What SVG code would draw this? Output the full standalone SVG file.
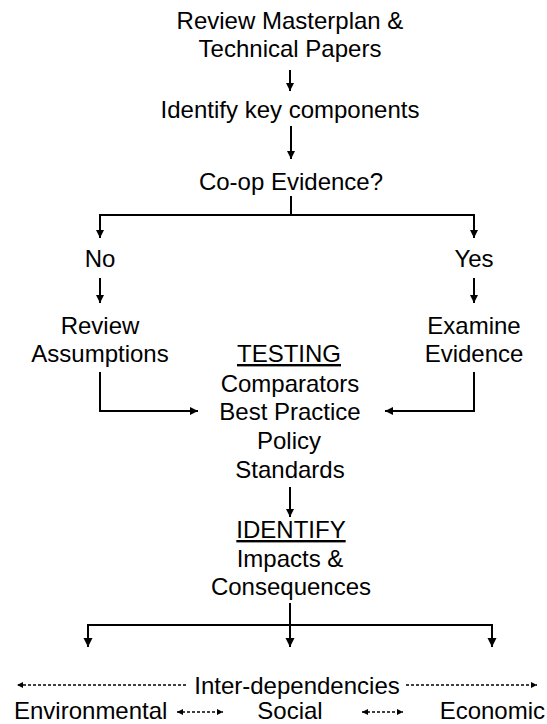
<svg xmlns="http://www.w3.org/2000/svg" width="547" height="724" viewBox="0 0 547 724">
<style>
  text { font-family: "Liberation Sans", Arial, sans-serif; font-size: 24px; fill: #000; text-anchor: middle; }
  .u { text-decoration: underline; }
  .st { text-anchor: start; }
  .en { text-anchor: end; }
  .c { fill: none; stroke: #000; stroke-width: 2; }
  .d { fill: none; stroke: #000; stroke-width: 1.5; stroke-dasharray: 3 2; }
</style>
<defs>
  <marker id="ah" markerUnits="userSpaceOnUse" viewBox="0 0 10 10" refX="10" refY="5" markerWidth="8" markerHeight="8" orient="auto">
    <path d="M0,0 L10,5 L0,10 z" fill="#000"/>
  </marker>
  <marker id="ahb" markerUnits="userSpaceOnUse" viewBox="0 0 10 10" refX="10" refY="5" markerWidth="9" markerHeight="10" orient="auto">
    <path d="M0,0 L10,5 L0,10 z" fill="#000"/>
  </marker>
  <marker id="ahs" markerUnits="userSpaceOnUse" viewBox="0 0 10 10" refX="10" refY="5" markerWidth="7" markerHeight="6" orient="auto-start-reverse">
    <path d="M0,0 L10,5 L0,10 z" fill="#000"/>
  </marker>
</defs>

<g id="connectors">
  <line class="c" x1="290" y1="70" x2="290" y2="91" marker-end="url(#ah)"/>
  <line class="c" x1="291" y1="126" x2="291" y2="159" marker-end="url(#ah)"/>
  <line class="c" x1="291" y1="196" x2="291" y2="215"/>
  <path class="c" d="M291,215 H100 V238" marker-end="url(#ah)"/>
  <path class="c" d="M291,215 H474 V238" marker-end="url(#ah)"/>
  <line class="c" x1="100" y1="278" x2="100" y2="303" marker-end="url(#ah)"/>
  <line class="c" x1="474" y1="278" x2="474" y2="303" marker-end="url(#ah)"/>
  <path class="c" d="M100,372 V411 H198" marker-end="url(#ah)"/>
  <path class="c" d="M474,372 V411 H385" marker-end="url(#ah)"/>
  <line class="c" x1="290" y1="487" x2="290" y2="517" marker-end="url(#ah)"/>
  <line class="c" x1="290" y1="603" x2="290" y2="647" marker-end="url(#ahb)"/>
  <path class="c" d="M290,625 H88 V647" marker-end="url(#ahb)"/>
  <path class="c" d="M290,625 H492 V647" marker-end="url(#ahb)"/>
  <line class="d" x1="186" y1="685" x2="17" y2="685" marker-end="url(#ahs)"/>
  <line class="d" x1="406" y1="685" x2="537" y2="685" marker-end="url(#ahs)"/>
  <line class="d" x1="177" y1="712" x2="223" y2="712" marker-start="url(#ahs)" marker-end="url(#ahs)"/>
  <line class="d" x1="362" y1="712" x2="403" y2="712" marker-start="url(#ahs)" marker-end="url(#ahs)"/>
</g>

<g id="review-masterplan">
  <text x="290" y="29">Review Masterplan &amp;</text>
  <text x="290" y="57">Technical Papers</text>
</g>
<g id="identify-key"><text x="290" y="118">Identify key components</text></g>
<g id="coop-evidence"><text x="291" y="190">Co-op Evidence?</text></g>
<g id="no"><text x="100" y="267">No</text></g>
<g id="yes"><text x="474" y="267">Yes</text></g>
<g id="review-assumptions">
  <text x="100" y="334">Review</text>
  <text x="100" y="362">Assumptions</text>
</g>
<g id="examine-evidence">
  <text x="474" y="334">Examine</text>
  <text x="474" y="362">Evidence</text>
</g>
<g id="testing">
  <text x="289" y="362" class="u">TESTING</text>
  <text x="290" y="392">Comparators</text>
  <text x="290" y="420">Best Practice</text>
  <text x="289" y="449">Policy</text>
  <text x="290" y="478">Standards</text>
</g>
<g id="identify">
  <text x="291" y="538" class="u">IDENTIFY</text>
  <text x="290" y="567">Impacts &amp;</text>
  <text x="291" y="595">Consequences</text>
</g>
<g id="interdependencies"><text x="297" y="694">Inter-dependencies</text></g>
<g id="environmental"><text x="14" y="719" class="st">Environmental</text></g>
<g id="social"><text x="290" y="719">Social</text></g>
<g id="economic"><text x="545" y="719" class="en">Economic</text></g>
</svg>
